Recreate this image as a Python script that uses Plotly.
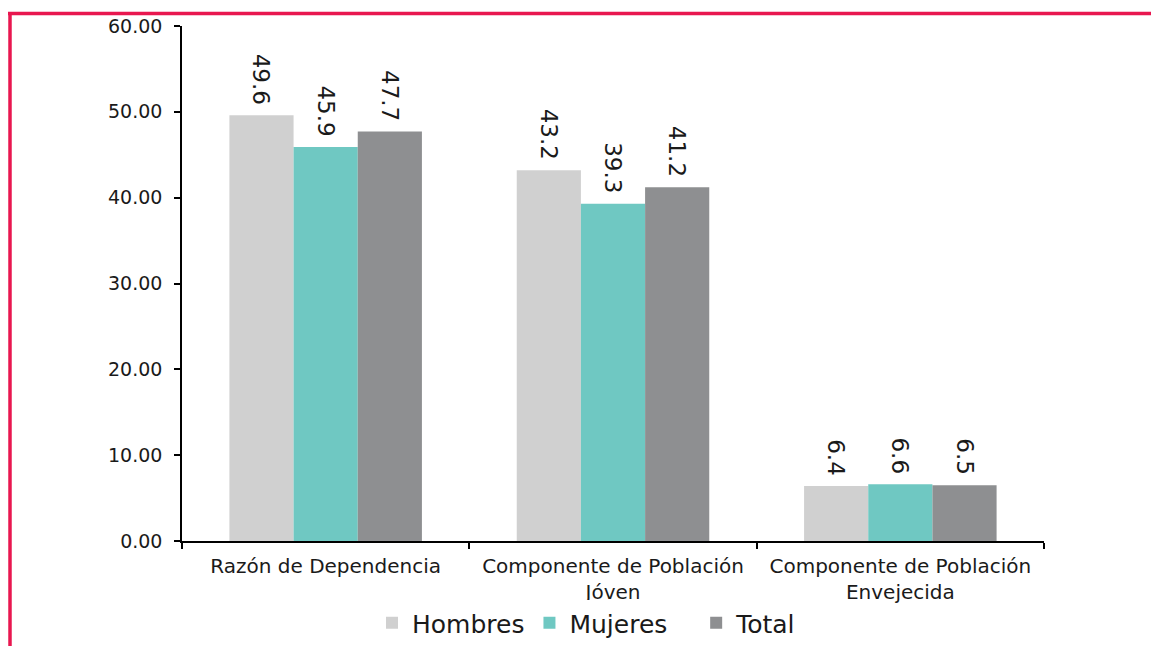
import plotly.graph_objects as go

categories = ["Razón de Dependencia", "Componente de Población<br>Jóven", "Componente de Población<br>Envejecida"]
series_names = ["Hombres", "Mujeres\u00a0\u00a0\u00a0", "Total"]
hombres = [49.6, 43.2, 6.4]
mujeres = [45.9, 39.3, 6.6]
total = [47.7, 41.2, 6.5]
colors = ["#D0D0D0", "#6FC8C2", "#8E8F91"]
y_ticks = [0, 10, 20, 30, 40, 50, 60]

FONT = "DejaVu Sans"

fig = go.Figure()
for name, vals, col in zip(series_names, [hombres, mujeres, total], colors):
    fig.add_trace(go.Bar(
        x=categories, y=vals, name=name, marker=dict(color=col, line=dict(width=0)),
        text=[f"{v:.1f}\u00a0" for v in vals], textposition="outside", textangle=90,
        textfont=dict(size=23, color="#1a1a1a", family=FONT), cliponaxis=False,
    ))

L, R, T, B = 182, 107, 26, 105
W, H = 1151, 646
pw, ph = W - L - R, H - T - B

def px(x):
    return (x - L) / pw

def py(y):
    return (H - B - y) / ph

fig.update_layout(
    width=W, height=H, margin=dict(l=L, r=R, t=T, b=B, autoexpand=False),
    paper_bgcolor="white", plot_bgcolor="white",
    barmode="group", bargap=0.33, bargroupgap=0,
    font=dict(family=FONT, color="#1a1a1a"),
    showlegend=True,
    legend=dict(orientation="h", x=px(372), xanchor="left", y=py(623), yanchor="middle",
                font=dict(size=25, family=FONT), itemwidth=30, traceorder="normal"),
    xaxis=dict(showline=True, linecolor="black", linewidth=1.5, ticks="outside", tickson="boundaries",
               ticklen=6, tickcolor="black", tickwidth=1.5, tickfont=dict(size=20, family=FONT),
               ticklabelstandoff=6, showgrid=False),
    yaxis=dict(range=[0, 60], tickvals=y_ticks, tickformat=".2f", showline=True, linecolor="black",
               linewidth=1.5, ticks="outside", ticklen=6, tickcolor="black", tickwidth=1.5,
               tickfont=dict(size=19, family=FONT), ticklabelstandoff=8,
               showgrid=False, zeroline=False),
    shapes=[
        dict(type="line", xref="paper", yref="paper", x0=px(8), x1=px(1151), y0=py(13.5), y1=py(13.5),
             line=dict(color="#E8174F", width=3.5)),
        dict(type="line", xref="paper", yref="paper", x0=px(10), x1=px(10), y0=py(12), y1=py(646),
             line=dict(color="#E8174F", width=3.5)),
    ],
)

fig.write_html("out.html", config={"displayModeBar": False},
               post_script="document.body.style.margin='0';document.body.style.overflow='hidden';")
